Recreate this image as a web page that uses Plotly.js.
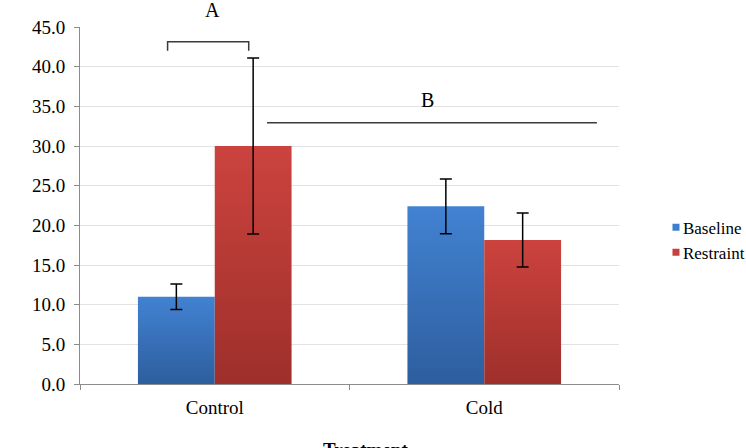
<!DOCTYPE html>
<html>
<head>
<meta charset="utf-8">
<script src="https://cdn.plot.ly/plotly-3.0.1.min.js"></script>
<style>
  html, body { margin: 0; padding: 0; background: #fff; }
  #chart { width: 746px; height: 448px; }
</style>
</head>
<body>
<div id="chart"></div>
<script>
// Treatment groups on the x axis
const treatments = ['Control', 'Cold'];

// Group means and error half-widths
const baselineMeans = [11.0, 22.4];
const baselineErr = [1.6, 3.45];
const restraintMeans = [30.0, 18.15];
const restraintErr = [11.1, 3.4];

// Value axis ticks
const yTickVals = [0, 5, 10, 15, 20, 25, 30, 35, 40, 45];
const yTickText = yTickVals.map(v => v.toFixed(1));

const serif = "'Liberation Serif', 'Times New Roman', serif";
const blue = '#3a73bd';
const red = '#bb3a35';

const errStyle = { type: 'data', visible: true, color: '#000', thickness: 1.5, width: 6 };

const data = [
  {
    type: 'bar', name: 'Baseline', x: treatments, y: baselineMeans,
    marker: { color: blue, line: { width: 0 } },
    error_y: Object.assign({ array: baselineErr }, errStyle),
    showlegend: false, hoverinfo: 'skip'
  },
  {
    type: 'bar', name: 'Restraint', x: treatments, y: restraintMeans,
    marker: { color: red, line: { width: 0 } },
    error_y: Object.assign({ array: restraintErr }, errStyle),
    showlegend: false, hoverinfo: 'skip'
  },
  // legend keys with small square swatches
  { type: 'scatter', mode: 'markers', name: 'Baseline', x: [null], y: [null],
    marker: { symbol: 'square', size: 7, color: '#3f7fcf' }, hoverinfo: 'skip' },
  { type: 'scatter', mode: 'markers', name: 'Restraint', x: [null], y: [null],
    marker: { symbol: 'square', size: 7, color: '#c8403b' }, hoverinfo: 'skip' }
];

const layout = {
  width: 746, height: 448,
  margin: { l: 80, r: 127, t: 27, b: 64, pad: 0, autoexpand: false },
  paper_bgcolor: '#fff', plot_bgcolor: '#fff',
  font: { family: serif, color: '#000', size: 19 },
  barmode: 'group', bargap: 0.43, bargroupgap: 0,
  showlegend: true,
  legend: {
    x: 1.0445, y: 0.403, xanchor: 'left', yanchor: 'middle',
    font: { family: serif, size: 17, color: '#000' },
    bgcolor: 'rgba(0,0,0,0)', borderwidth: 0, tracegroupgap: 0, itemwidth: 30
  },
  xaxis: {
    type: 'category', range: [-0.5, 1.5], fixedrange: true, automargin: false,
    showline: true, linecolor: '#8c8c8c', linewidth: 1,
    ticks: 'outside', tickson: 'boundaries', ticklen: 5, tickcolor: '#8c8c8c',
    ticklabelstandoff: 6,
    showgrid: false, zeroline: false,
    tickfont: { family: serif, size: 19, color: '#000' }
  },
  yaxis: {
    range: [0, 45], fixedrange: true, automargin: false,
    tickvals: yTickVals, ticktext: yTickText,
    showline: true, linecolor: '#8c8c8c', linewidth: 1,
    ticks: 'outside', ticklen: 5, tickcolor: '#8c8c8c',
    ticklabelstandoff: 5,
    showgrid: true, gridcolor: '#e2e2e2', gridwidth: 1, zeroline: false,
    tickfont: { family: serif, size: 19, color: '#000' }
  },
  shapes: [
    // bracket over the Control pair
    { type: 'path', xref: 'x', yref: 'y',
      path: 'M -0.175 42.0 L -0.175 43.15 L 0.126 43.15 L 0.126 42.0',
      line: { color: '#3a3a3a', width: 1.5 } },
    // line spanning towards the Cold group
    { type: 'line', xref: 'x', yref: 'y', x0: 0.194, x1: 1.418, y0: 32.94, y1: 32.94,
      line: { color: '#3a3a3a', width: 1.5 } }
  ],
  annotations: [
    { text: 'A', xref: 'paper', yref: 'paper', x: 0.2449, y: 1.0468, showarrow: false,
      xanchor: 'center', yanchor: 'middle', font: { family: serif, size: 20, color: '#000' } },
    { text: 'B', xref: 'x', yref: 'y', x: 0.788, y: 35.74, showarrow: false,
      xanchor: 'center', yanchor: 'middle', font: { family: serif, size: 20, color: '#000' } },
    { text: '<b>Treatment</b>', xref: 'paper', yref: 'paper', x: 0.5306, y: -0.1485,
      xanchor: 'center', yanchor: 'top', showarrow: false,
      font: { family: serif, size: 19, color: '#000' } },
    { text: 'Plasma corticosterone (ng/ml)', xref: 'paper', yref: 'paper',
      x: -0.1559, y: 0.79, xanchor: 'right', yanchor: 'top', textangle: -90,
      showarrow: false, font: { family: serif, size: 16, color: '#000' } }
  ]
};

Plotly.newPlot('chart', data, layout, { staticPlot: true, displayModeBar: false }).then(gd => {
  // vertical shading on the bars: lighter at the top, darker at the base
  const NS = 'http://www.w3.org/2000/svg';
  const svg = gd.querySelector('svg.main-svg');
  let defs = svg.querySelector('defs');
  if (!defs) { defs = document.createElementNS(NS, 'defs'); svg.insertBefore(defs, svg.firstChild); }
  const shades = [
    ['barShadeBaseline', '#4282d2', '#2d5e9e'],
    ['barShadeRestraint', '#cc433e', '#9e2f2b']
  ];
  shades.forEach(([id, top, bottom]) => {
    const g = document.createElementNS(NS, 'linearGradient');
    g.setAttribute('id', id);
    g.setAttribute('x1', '0'); g.setAttribute('y1', '0');
    g.setAttribute('x2', '0'); g.setAttribute('y2', '1');
    [[0, top], [1, bottom]].forEach(([off, col]) => {
      const s = document.createElementNS(NS, 'stop');
      s.setAttribute('offset', off);
      s.setAttribute('stop-color', col);
      g.appendChild(s);
    });
    defs.appendChild(g);
  });
  gd.querySelectorAll('.barlayer .trace').forEach((tr, i) => {
    tr.querySelectorAll('.point path').forEach(p => { p.style.fill = 'url(#' + shades[i][0] + ')'; });
  });
  // keep the legend swatches close to their labels
  gd.querySelectorAll('.legend .legendpoints').forEach(lp => lp.setAttribute('transform', 'translate(13,0)'));
});
</script>
</body>
</html>
